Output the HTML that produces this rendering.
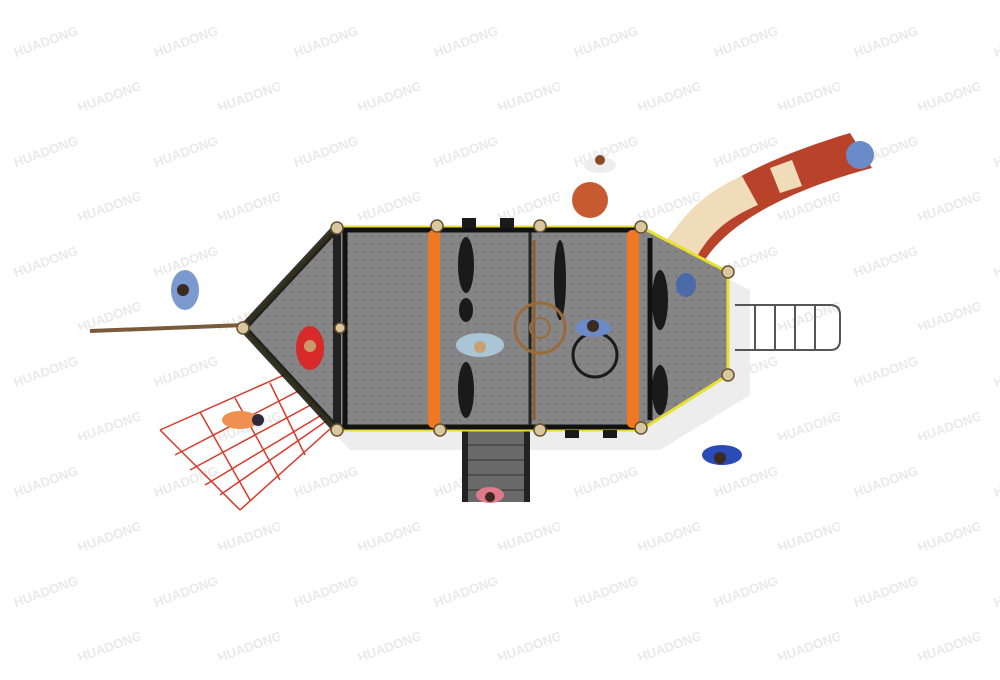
<!DOCTYPE html>
<html><head><meta charset="utf-8"><style>
html,body{margin:0;padding:0;background:#fff;}
svg{display:block;}
</style></head><body>
<svg width="1000" height="680" viewBox="0 0 1000 680" xmlns="http://www.w3.org/2000/svg" font-family="Liberation Sans, sans-serif">
<defs>
<pattern id="wm" x="0" y="0" width="140" height="110" patternUnits="userSpaceOnUse">
<text x="12" y="48" font-size="13" font-weight="bold" fill="#e9e9e9" transform="rotate(-20 40 42)">HUADONG</text>
<text x="76" y="103" font-size="13" font-weight="bold" fill="#e9e9e9" transform="rotate(-20 104 97)">HUADONG</text>
</pattern>
<pattern id="dots" width="8" height="8" patternUnits="userSpaceOnUse">
<rect width="8" height="8" fill="#858585"/><circle cx="4" cy="4" r="0.9" fill="#666"/>
</pattern>
</defs>
<rect width="1000" height="680" fill="#fff"/>
<rect width="1000" height="680" fill="url(#wm)"/>
<!-- shadows -->
<polygon points="255,345 350,245 660,245 750,290 750,395 660,450 350,450" fill="#ededed"/>
<!-- bowsprit -->
<line x1="90" y1="331" x2="245" y2="325" stroke="#7a5a3a" stroke-width="4"/>
<!-- net -->
<g stroke="#d83a2a" stroke-width="1.5" fill="none">
<polyline points="160,430 300,368 340,420 240,510"/>
<line x1="175" y1="455" x2="310" y2="385"/><line x1="190" y1="470" x2="320" y2="400"/>
<line x1="205" y1="485" x2="330" y2="410"/><line x1="220" y1="495" x2="335" y2="415"/>
<line x1="200" y1="412" x2="250" y2="500"/><line x1="235" y1="398" x2="280" y2="480"/><line x1="270" y1="383" x2="305" y2="455"/>
<line x1="160" y1="430" x2="240" y2="510"/>
</g>
<!-- ladder right -->
<g stroke="#555" stroke-width="2" fill="none">
<path d="M735,305 H830 Q840,305 840,315 V340 Q840,350 830,350 H735"/>
<line x1="755" y1="305" x2="755" y2="350"/><line x1="775" y1="305" x2="775" y2="350"/><line x1="795" y1="305" x2="795" y2="350"/><line x1="815" y1="305" x2="815" y2="350"/>
</g>
<!-- stairs -->
<rect x="462" y="430" width="68" height="72" fill="#6a6a6a"/>
<g stroke="#333" stroke-width="1"><line x1="462" y1="445" x2="530" y2="445"/><line x1="462" y1="460" x2="530" y2="460"/><line x1="462" y1="475" x2="530" y2="475"/><line x1="462" y1="490" x2="530" y2="490"/></g>
<rect x="462" y="430" width="6" height="72" fill="#222"/><rect x="524" y="430" width="6" height="72" fill="#222"/>
<!-- slide -->
<path d="M662,250 C690,195 760,160 850,133 L872,168 C790,190 725,222 700,268 Z" fill="#b8432a"/>
<path d="M665,245 C688,205 715,188 742,176 L758,205 C735,215 712,228 695,260 Z" fill="#f0dcb8"/>
<path d="M770,168 L792,160 L802,186 L780,193 Z" fill="#f0dcb8"/>
<!-- deck -->
<polygon points="243,328 337,227 641,227 728,272 728,375 641,430 337,430" fill="url(#dots)" stroke="#e8e030" stroke-width="3"/>
<polygon points="243,328 337,227 337,430" fill="none" stroke="#111" stroke-width="8" stroke-linejoin="round" opacity="0.85"/>
<line x1="337" y1="230" x2="641" y2="230" stroke="#111" stroke-width="5"/>
<line x1="337" y1="427" x2="641" y2="427" stroke="#111" stroke-width="5"/>
<line x1="345" y1="232" x2="345" y2="425" stroke="#111" stroke-width="5"/>
<line x1="530" y1="232" x2="530" y2="425" stroke="#222" stroke-width="3"/>
<line x1="650" y1="238" x2="650" y2="420" stroke="#111" stroke-width="5"/>
<g fill="#1a1a1a">
<ellipse cx="466" cy="265" rx="8" ry="28"/><ellipse cx="466" cy="390" rx="8" ry="28"/><ellipse cx="466" cy="310" rx="7" ry="12"/>
<ellipse cx="560" cy="280" rx="6" ry="40"/><ellipse cx="660" cy="300" rx="8" ry="30"/><ellipse cx="660" cy="390" rx="8" ry="25"/>
<circle cx="595" cy="355" r="22" fill="none" stroke="#1a1a1a" stroke-width="3"/>
<rect x="462" y="218" width="14" height="10"/><rect x="500" y="218" width="14" height="10"/>
<rect x="565" y="430" width="14" height="8"/><rect x="603" y="430" width="14" height="8"/>
</g>
<rect x="428" y="230" width="12" height="198" rx="5" fill="#f07820"/>
<rect x="627" y="230" width="12" height="198" rx="5" fill="#f07820"/>
<line x1="534" y1="240" x2="534" y2="420" stroke="#8a6030" stroke-width="3"/>
<circle cx="540" cy="328" r="25" fill="none" stroke="#9a6a3a" stroke-width="3"/>
<circle cx="540" cy="328" r="10" fill="none" stroke="#9a6a3a" stroke-width="2"/>
<g fill="#d8c8a0" stroke="#6a5030" stroke-width="1.5">
<circle cx="337" cy="228" r="6"/><circle cx="437" cy="226" r="6"/><circle cx="540" cy="226" r="6"/><circle cx="641" cy="227" r="6"/>
<circle cx="243" cy="328" r="6"/><circle cx="340" cy="328" r="5"/><circle cx="728" cy="272" r="6"/><circle cx="728" cy="375" r="6"/>
<circle cx="337" cy="430" r="6"/><circle cx="440" cy="430" r="6"/><circle cx="540" cy="430" r="6"/><circle cx="641" cy="428" r="6"/>
</g>
<circle cx="590" cy="200" r="18" fill="#c85a30"/>
<g>
<ellipse cx="310" cy="348" rx="14" ry="22" fill="#d82a2a"/><circle cx="310" cy="346" r="6" fill="#c89a6a"/>
<ellipse cx="480" cy="345" rx="24" ry="12" fill="#aac4d8"/><circle cx="480" cy="347" r="6" fill="#c8a070"/>
<ellipse cx="593" cy="328" rx="18" ry="9" fill="#6a8ac8"/><circle cx="593" cy="326" r="6" fill="#3a2a20"/>
<ellipse cx="686" cy="285" rx="10" ry="12" fill="#4a6aa8"/>
<ellipse cx="185" cy="290" rx="14" ry="20" fill="#7a9ad0"/><circle cx="183" cy="290" r="6" fill="#3a2a20"/>
<ellipse cx="722" cy="455" rx="20" ry="10" fill="#2a4ab8"/><circle cx="720" cy="458" r="6" fill="#3a2a20"/>
<ellipse cx="490" cy="495" rx="14" ry="8" fill="#e07a8a"/><circle cx="490" cy="497" r="5" fill="#3a2a20"/>
<ellipse cx="600" cy="165" rx="16" ry="8" fill="#eee"/><circle cx="600" cy="160" r="5" fill="#8a4a2a"/>
<ellipse cx="860" cy="155" rx="14" ry="14" fill="#6a8ac8"/>
<ellipse cx="240" cy="420" rx="18" ry="9" fill="#f09050"/><circle cx="258" cy="420" r="6" fill="#2a2a3a"/>
</g>
</svg>
</body></html>
